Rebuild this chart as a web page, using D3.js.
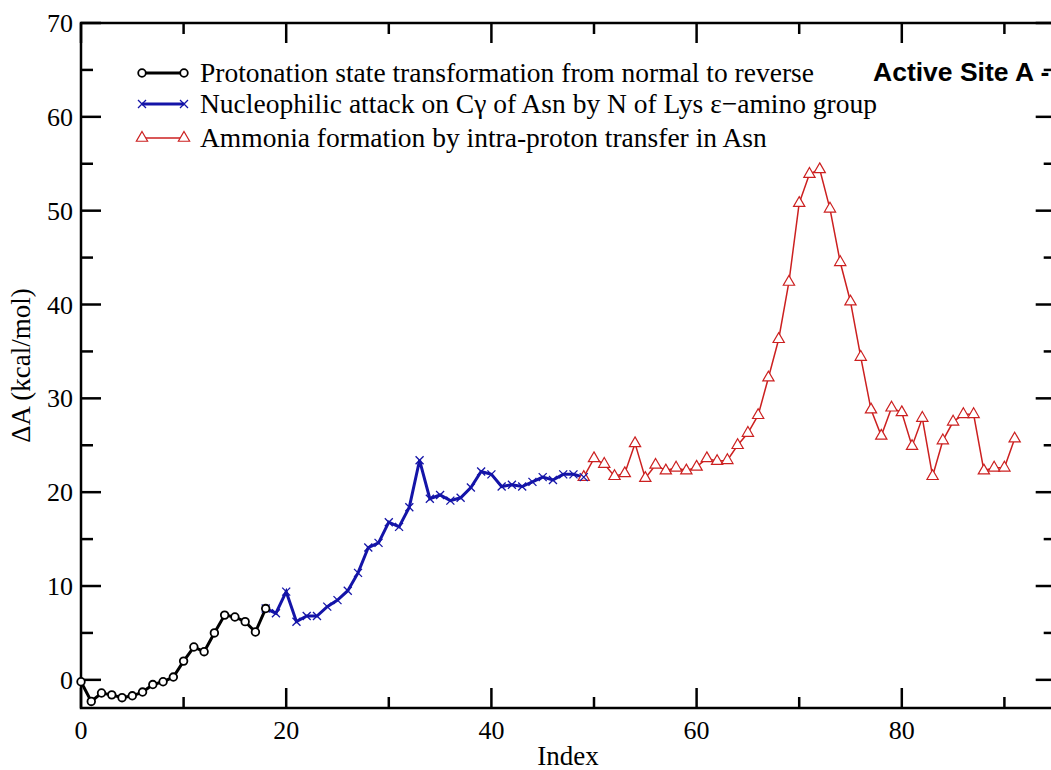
<!DOCTYPE html>
<html><head><meta charset="utf-8">
<script src="https://cdn.jsdelivr.net/npm/d3@7"></script>
<style>body{margin:0;background:#fff}svg{display:block}</style>
</head><body>
<svg id="c" width="1051" height="770"></svg>
<script>
const blackIdx = d3.range(0, 19);
const blackVals = [-0.2,-2.3,-1.4,-1.6,-1.9,-1.7,-1.3,-0.5,-0.2,0.3,2.0,3.5,3.0,5.0,6.9,6.7,6.2,5.1,7.6];
const blueIdx = d3.range(18, 50);
const blueVals = [7.6,7.1,9.4,6.2,6.8,6.8,7.8,8.5,9.5,11.4,14.1,14.6,16.8,16.3,18.4,23.4,19.3,19.7,19.1,19.4,20.5,22.2,21.9,20.6,20.8,20.6,21.1,21.6,21.3,21.9,21.9,21.6];
const redIdx = d3.range(49, 92);
const redVals = [21.6,23.6,23.0,21.7,22.0,25.2,21.5,22.9,22.3,22.6,22.3,22.7,23.6,23.3,23.4,25.0,26.3,28.2,32.2,36.3,42.4,50.8,53.9,54.4,50.2,44.5,40.3,34.4,28.8,26.0,29.0,28.5,24.9,27.9,21.7,25.5,27.5,28.3,28.3,22.3,22.6,22.6,25.7];
const xMajor = [0,20,40,60,80];
const xMinor = [10,30,50,70,90];
const yMajor = [0,10,20,30,40,50,60,70];
const yMinor = [5,15,25,35,45,55,65];
const legendLabels = [
  "Protonation state transformation from normal to reverse",
  "Nucleophilic attack on C\u03b3 of Asn by N of Lys \u03b5\u2212amino group",
  "Ammonia formation by intra-proton transfer in Asn"
];
const titleText = "Active Site A -";

const svg = d3.select("#c");
const L = 81, T = 23, B = 708;
const x = d3.scaleLinear().domain([0,95]).range([L, L + 95*10.26]);
const y = d3.scaleLinear().domain([-3,70]).range([B, T]);
const R = x(95);
const serif = "'Liberation Serif','Times New Roman',serif";

// frame
const axG = svg.append("g").attr("stroke","#000").attr("stroke-width",2.5).attr("fill","none");
axG.append("rect").attr("x",L).attr("y",T).attr("width",R-L).attr("height",B-T);

function ticks(vals, len){
  vals.forEach(v=>{
    const px = x(v);
    axG.append("line").attr("x1",px).attr("x2",px).attr("y1",B).attr("y2",B-len);
    axG.append("line").attr("x1",px).attr("x2",px).attr("y1",T).attr("y2",T+len);
  });
}
ticks(xMajor, 20); ticks(xMinor, 11);
function yticks(vals, len){
  vals.forEach(v=>{
    const py = y(v);
    axG.append("line").attr("x1",L).attr("x2",L+len).attr("y1",py).attr("y2",py);
    axG.append("line").attr("x1",R).attr("x2",R-len).attr("y1",py).attr("y2",py);
  });
}
yticks(yMajor, 20); yticks(yMinor, 12);

// tick labels
const lab = svg.append("g").attr("font-family",serif).attr("fill","#000");
xMajor.forEach(v=>{
  lab.append("text").attr("x",x(v)).attr("y",B+31).attr("font-size",26).attr("text-anchor","middle").text(v);
});
yMajor.forEach(v=>{
  lab.append("text").attr("x",L-8).attr("y",y(v)+9).attr("font-size",26).attr("text-anchor","end").text(v);
});
lab.append("text").attr("x",568).attr("y",765).attr("font-size",27).attr("text-anchor","middle").text("Index");
lab.append("text").attr("font-size",27).attr("transform",`translate(30,${(T+B)/2}) rotate(-90)`).attr("text-anchor","middle").text("\u0394A (kcal/mol)");

// series
const line = d3.line().x(d=>x(d[0])).y(d=>y(d[1]));
const blk = blackIdx.map((i,k)=>[i,blackVals[k]]);
const blu = blueIdx.map((i,k)=>[i,blueVals[k]]);
const red = redIdx.map((i,k)=>[i,redVals[k]]);

const cRed = "#cc2020", cBlue = "#1414a8";
svg.append("path").datum(red).attr("d",line).attr("fill","none").attr("stroke",cRed).attr("stroke-width",1.5);
svg.append("path").datum(blu).attr("d",line).attr("fill","none").attr("stroke",cBlue).attr("stroke-width",3);
svg.append("path").datum(blk).attr("d",line).attr("fill","none").attr("stroke","#000").attr("stroke-width",3);

const tri = d3.symbol().type(d3.symbolTriangle).size(55);
function triM(g, px, py){
  g.append("path").attr("d",tri()).attr("transform",`translate(${px},${py})`).attr("fill","#fff").attr("stroke",cRed).attr("stroke-width",1.2);
}
function xM(g, px, py){
  const s=4;
  g.append("path").attr("d",`M${px-s},${py-s}L${px+s},${py+s}M${px-s},${py+s}L${px+s},${py-s}`).attr("stroke",cBlue).attr("stroke-width",1.3).attr("fill","none");
}
function cM(g, px, py){
  g.append("circle").attr("cx",px).attr("cy",py).attr("r",3.8).attr("fill","#fff").attr("stroke","#000").attr("stroke-width",1.8);
}
const mk = svg.append("g");
red.forEach(d=>triM(mk, x(d[0]), y(d[1])));
blu.forEach(d=>xM(mk, x(d[0]), y(d[1])));
blk.forEach(d=>cM(mk, x(d[0]), y(d[1])));

// legend
const lg = svg.append("g");
const rows = [73, 104, 138];
const lx1 = 142, lx2 = 184;
[["#000",3,cM],[cBlue,3,xM],[cRed,1.5,triM]].forEach((s,k)=>{
  lg.append("line").attr("x1",lx1).attr("x2",lx2).attr("y1",rows[k]).attr("y2",rows[k]).attr("stroke",s[0]).attr("stroke-width",s[1]);
  s[2](lg, lx1, rows[k]); s[2](lg, lx2, rows[k]);
  lg.append("text").attr("x",200).attr("y",rows[k]+9).attr("font-family",serif).attr("font-size",27.5).text(legendLabels[k]);
});

// title (cropped at right in the reference)
svg.append("text").attr("x",873).attr("y",81).attr("font-family","'Liberation Sans',Arial,sans-serif").attr("font-weight","bold").attr("font-size",26.5).text(titleText);
</script>
</body></html>
